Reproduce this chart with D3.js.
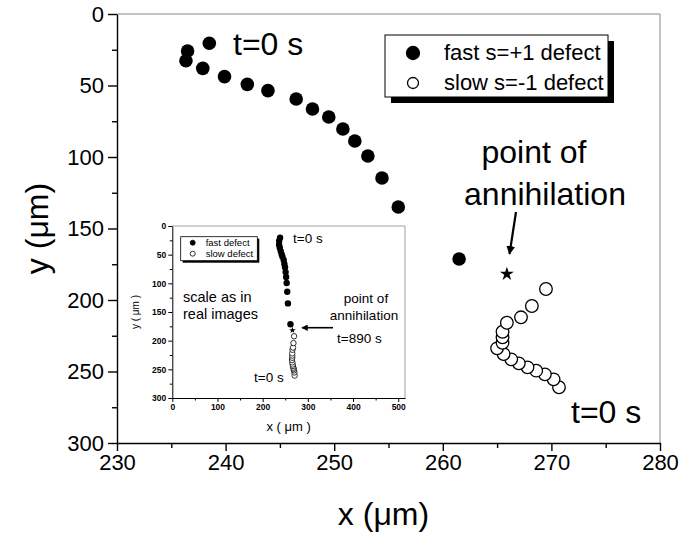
<!DOCTYPE html>
<html><head><meta charset="utf-8">
<script src="https://cdn.jsdelivr.net/npm/d3@7"></script>
<style>
body{margin:0;background:#fff}
svg{display:block}
text{font-family:"Liberation Sans",Arial,Helvetica,sans-serif;fill:#000}
</style>
</head><body>
<svg id="c" width="687" height="533"></svg>
<script>
// ---- data (µm) ----
const fastX = [238.5, 236.5, 236.35, 237.9, 239.9, 242.0, 243.9, 246.5, 248.0, 249.5, 250.8, 251.9, 253.1, 254.4, 255.9, 261.5];
const fastY = [20.5, 25.9, 32.7, 38.0, 43.8, 49.2, 53.6, 59.4, 66.4, 72.0, 80.4, 88.8, 99.3, 114.7, 135.0, 171.3];
const slowX = [270.7, 270.2, 269.4, 268.6, 267.8, 267.0, 266.3, 265.6, 265.0, 265.5, 265.5, 265.5, 265.9, 267.2, 268.2, 269.5];
const slowY = [261.0, 255.5, 252.0, 249.4, 247.1, 244.3, 241.5, 237.8, 233.8, 229.9, 226.1, 222.2, 215.9, 212.1, 204.2, 192.3];
const annihilation = [265.9, 181.8];
const xTicks = [230, 240, 250, 260, 270, 280];
const xMinor = [235, 245, 255, 265, 275];
const yTicks = [0, 50, 100, 150, 200, 250, 300];
const yMinor = [25, 75, 125, 175, 225, 275];
const insetXTicks = [0, 100, 200, 300, 400, 500];
const insetXMinor = [50, 150, 250, 350, 450];
const insetYTicks = [0, 50, 100, 150, 200, 250, 300];
const insetYMinor = [25, 75, 125, 175, 225, 275];
const legendLabels = ["fast s=+1 defect", "slow s=-1 defect"];
const insetLegendLabels = ["fast defect", "slow defect"];

const fast = fastX.map((v, i) => [v, fastY[i]]);
const slow = slowX.map((v, i) => [v, slowY[i]]);

const svg = d3.select("#c");

// ---- main plot ----
const M = {l: 117, r: 660, t: 14, b: 443};
const x = d3.scaleLinear().domain([230, 280]).range([M.l, M.r]);
const y = d3.scaleLinear().domain([0, 300]).range([M.t, M.b]);

// frame top/right (thin grey)
svg.append("line").attr("x1", M.l).attr("x2", M.r).attr("y1", M.t).attr("y2", M.t).attr("stroke", "#888").attr("stroke-width", 1);
svg.append("line").attr("x1", M.r).attr("x2", M.r).attr("y1", M.t).attr("y2", M.b).attr("stroke", "#888").attr("stroke-width", 1);

function styleAxis(g, sw) {
  g.selectAll("path.domain").attr("stroke", "#000").attr("stroke-width", sw);
  g.selectAll(".tick line").attr("stroke", "#000").attr("stroke-width", sw);
}

const gy = svg.append("g").attr("transform", `translate(${M.l},0)`)
  .call(d3.axisLeft(y).tickValues(yTicks).tickSize(9).tickSizeOuter(0).tickPadding(4));
gy.selectAll("text").attr("font-size", 22);
styleAxis(gy, 1.4);
const gym = svg.append("g").attr("transform", `translate(${M.l},0)`)
  .call(d3.axisLeft(y).tickValues(yMinor).tickSize(5).tickFormat(""));
gym.select("path.domain").remove(); styleAxis(gym, 1.4);

const gx = svg.append("g").attr("transform", `translate(0,${M.b})`)
  .call(d3.axisBottom(x).tickValues(xTicks).tickSize(8).tickSizeOuter(0).tickPadding(3));
gx.selectAll("text").attr("font-size", 22);
styleAxis(gx, 1.4);
const gxm = svg.append("g").attr("transform", `translate(0,${M.b})`)
  .call(d3.axisBottom(x).tickValues(xMinor).tickSize(5).tickFormat(""));
gxm.select("path.domain").remove(); styleAxis(gxm, 1.4);

// axis titles
svg.append("text").attr("x", (M.l + M.r) / 2 - 5).attr("y", 525).attr("text-anchor", "middle")
  .attr("font-size", 32).text("x (\u03bcm)");
svg.append("text").attr("transform", `translate(48,${(M.t + M.b) / 2}) rotate(-90)`).attr("text-anchor", "middle")
  .attr("font-size", 32).text("y (\u03bcm)");

// data marks
svg.append("g").selectAll("circle").data(fast).join("circle")
  .attr("cx", d => x(d[0])).attr("cy", d => y(d[1])).attr("r", 6.8).attr("fill", "#000");
svg.append("g").selectAll("circle").data(slow).join("circle")
  .attr("cx", d => x(d[0])).attr("cy", d => y(d[1])).attr("r", 6.3)
  .attr("fill", "#fff").attr("stroke", "#000").attr("stroke-width", 1.3);
svg.append("path").attr("d", d3.symbol(d3.symbolStar, 60)())
  .attr("transform", `translate(${x(annihilation[0])},${y(annihilation[1])})`).attr("fill", "#000");

// annotations
svg.append("text").attr("x", 233).attr("y", 55).attr("font-size", 32).text("t=0 s");
svg.append("text").attr("x", 571).attr("y", 423).attr("font-size", 32).text("t=0 s");
svg.append("text").attr("x", 534).attr("y", 163).attr("text-anchor", "middle").attr("font-size", 32).text("point of");
svg.append("text").attr("x", 545).attr("y", 205).attr("text-anchor", "middle").attr("font-size", 32).text("annihilation");

const defs = svg.append("defs");
defs.append("marker").attr("id", "ah").attr("viewBox", "0 0 10 10").attr("refX", 9).attr("refY", 5)
  .attr("markerWidth", 4).attr("markerHeight", 4).attr("orient", "auto")
  .append("path").attr("d", "M0,0L10,5L0,10z").attr("fill", "#000");
svg.append("line").attr("x1", 516).attr("y1", 212).attr("x2", 509.5).attr("y2", 254)
  .attr("stroke", "#000").attr("stroke-width", 2.2).attr("marker-end", "url(#ah)");

// legend
const L = {x: 385, y: 35, w: 223, h: 62};
svg.append("rect").attr("x", L.x + 6).attr("y", L.y + 6).attr("width", L.w).attr("height", L.h).attr("fill", "#000");
svg.append("rect").attr("x", L.x).attr("y", L.y).attr("width", L.w).attr("height", L.h).attr("fill", "#fff").attr("stroke", "#000").attr("stroke-width", 1);
const lg = svg.append("g").selectAll("g").data(legendLabels).join("g")
  .attr("transform", (d, i) => `translate(${L.x},${L.y + 18 + i * 30})`);
lg.append("circle").attr("cx", 28).attr("cy", 0).attr("r", (d, i) => i ? 5.5 : 6.5)
  .attr("fill", (d, i) => i ? "#fff" : "#000").attr("stroke", "#000").attr("stroke-width", 1.3);
lg.append("text").attr("x", 59).attr("y", 7).attr("font-size", 22).text(d => d);

// ---- inset ----
const I = {l: 172.3, r: 405, t: 226, b: 398};
const xi = d3.scaleLinear().domain([0, 515]).range([I.l, I.r]);
const yi = d3.scaleLinear().domain([0, 300]).range([I.t, I.b]);
svg.append("rect").attr("x", I.l).attr("y", I.t).attr("width", I.r - I.l).attr("height", I.b - I.t).attr("fill", "#fff");
svg.append("line").attr("x1", I.l).attr("x2", I.r).attr("y1", I.t).attr("y2", I.t).attr("stroke", "#888").attr("stroke-width", 0.8);
svg.append("line").attr("x1", I.r).attr("x2", I.r).attr("y1", I.t).attr("y2", I.b).attr("stroke", "#888").attr("stroke-width", 0.8);

const giy = svg.append("g").attr("transform", `translate(${I.l},0)`)
  .call(d3.axisLeft(yi).tickValues(insetYTicks).tickSize(4).tickSizeOuter(0).tickPadding(2));
giy.selectAll("text").attr("font-size", 8.5).attr("font-weight", "bold");
styleAxis(giy, 1);
const giym = svg.append("g").attr("transform", `translate(${I.l},0)`)
  .call(d3.axisLeft(yi).tickValues(insetYMinor).tickSize(2.5).tickFormat(""));
giym.select("path.domain").remove(); styleAxis(giym, 1);
const gix = svg.append("g").attr("transform", `translate(0,${I.b})`)
  .call(d3.axisBottom(xi).tickValues(insetXTicks).tickSize(4).tickSizeOuter(0).tickPadding(2));
gix.selectAll("text").attr("font-size", 8.5).attr("font-weight", "bold");
styleAxis(gix, 1);
const gixm = svg.append("g").attr("transform", `translate(0,${I.b})`)
  .call(d3.axisBottom(xi).tickValues(insetXMinor).tickSize(2.5).tickFormat(""));
gixm.select("path.domain").remove(); styleAxis(gixm, 1);

svg.append("text").attr("x", (I.l + I.r) / 2).attr("y", 431).attr("text-anchor", "middle")
  .attr("font-size", 13).text("x ( \u03bcm )");
svg.append("text").attr("transform", `translate(139,${(I.t + I.b) / 2}) rotate(-90)`).attr("text-anchor", "middle")
  .attr("font-size", 10).text("y ( \u03bcm )");

svg.append("g").selectAll("circle").data(fast).join("circle")
  .attr("cx", d => xi(d[0])).attr("cy", d => yi(d[1])).attr("r", 3.2).attr("fill", "#000");
svg.append("g").selectAll("circle").data(slow).join("circle")
  .attr("cx", d => xi(d[0])).attr("cy", d => yi(d[1])).attr("r", 2.7)
  .attr("fill", "#fff").attr("stroke", "#000").attr("stroke-width", 0.8);
svg.append("path").attr("d", d3.symbol(d3.symbolStar, 14)())
  .attr("transform", `translate(${xi(annihilation[0])},${yi(annihilation[1])})`).attr("fill", "#000");

// inset legend
const IL = {x: 180.7, y: 236.7, w: 76.6, h: 24};
svg.append("rect").attr("x", IL.x + 2).attr("y", IL.y + 2).attr("width", IL.w).attr("height", IL.h).attr("fill", "#000");
svg.append("rect").attr("x", IL.x).attr("y", IL.y).attr("width", IL.w).attr("height", IL.h).attr("fill", "#fff").attr("stroke", "#000").attr("stroke-width", 0.8);
const ilg = svg.append("g").selectAll("g").data(insetLegendLabels).join("g")
  .attr("transform", (d, i) => `translate(${IL.x},${IL.y + 6 + i * 11})`);
ilg.append("circle").attr("cx", 12).attr("cy", 0).attr("r", 2.5)
  .attr("fill", (d, i) => i ? "#fff" : "#000").attr("stroke", "#000").attr("stroke-width", 0.8);
ilg.append("text").attr("x", 25).attr("y", 3.5).attr("font-size", 9.5).text(d => d);

// inset annotations
svg.append("text").attr("x", 183).attr("y", 302).attr("font-size", 14.5).text("scale as in");
svg.append("text").attr("x", 183).attr("y", 319).attr("font-size", 14.5).text("real images");
svg.append("text").attr("x", 293).attr("y", 243).attr("font-size", 13.5).text("t=0 s");
svg.append("text").attr("x", 254).attr("y", 382).attr("font-size", 13.5).text("t=0 s");
svg.append("text").attr("x", 366).attr("y", 303).attr("text-anchor", "middle").attr("font-size", 13.5).text("point of");
svg.append("text").attr("x", 364).attr("y", 320).attr("text-anchor", "middle").attr("font-size", 13.5).text("annihilation");
svg.append("text").attr("x", 337).attr("y", 343).attr("font-size", 13.5).text("t=890 s");
svg.append("line").attr("x1", 333).attr("y1", 327.7).attr("x2", 302).attr("y2", 327.7)
  .attr("stroke", "#000").attr("stroke-width", 1.6).attr("marker-end", "url(#ah)");
</script>
</body></html>
